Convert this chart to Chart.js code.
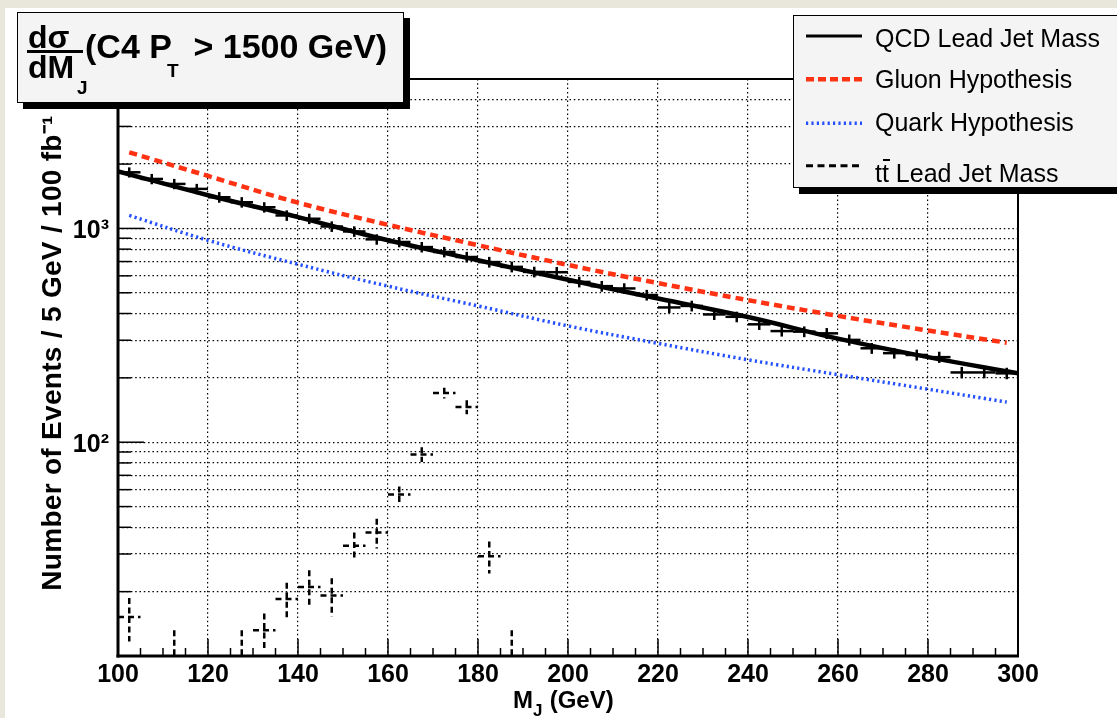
<!DOCTYPE html>
<html lang="en">
<head>
<meta charset="UTF-8">
<title>QCD lead jet mass, C4 PT &gt; 1500 GeV</title>
<script src="https://cdn.jsdelivr.net/npm/chart.js@4.4.0/dist/chart.umd.min.js"></script>
<style>
  body { margin: 0; width: 1117px; height: 718px; overflow: hidden; position: relative;
         background: #e9e6dc; font-family: 'Liberation Sans', Arial, Helvetica, sans-serif; color: #000; }
  #panel { position: absolute; left: 5px; top: 8px; right: 0; bottom: 0; background: #fff; }
  #myChart { position: absolute; left: 0; top: 0; }
  .box { position: absolute; box-sizing: border-box; background: #f4f4f4; border: 1.5px solid #000; box-shadow: 6px 6px 0 #000; }
  .t { position: absolute; white-space: pre; font-weight: bold; }
  .leg { position: absolute; white-space: pre; font-size: 25px; line-height: 25px; }
  .tb { position: relative; }
  .tb::after { content: ''; position: absolute; left: 1px; top: 0.5px; width: 7px; height: 2.2px; background: #000; }
  #ytitle { position: absolute; left: -248px; top: 338px; width: 600px; height: 30px; line-height: 30px;
            text-align: center; font-weight: bold; font-size: 28px; letter-spacing: 0.3px;
            transform: rotate(-90deg); white-space: pre; }
</style>
</head>
<body>
  <div id="panel"></div>
  <canvas id="myChart" width="1117" height="718"></canvas>

  <!-- title box -->
  <div class="box" style="left:17px; top:12px; width:387px; height:91px;"></div>
  <span class="t" style="left:28px; top:21px; font-size:32px; line-height:32px;">dσ</span>
  <div style="position:absolute; left:27px; top:50px; width:56px; height:2.5px; background:#000;"></div>
  <span class="t" style="left:28px; top:51px; font-size:32px; line-height:32px;">dM</span>
  <span class="t" style="left:77px; top:78px; font-size:19px; line-height:19px;">J</span>
  <span class="t" style="left:85px; top:29px; font-size:34px; line-height:34px;">(C4 P</span>
  <span class="t" style="left:167px; top:61px; font-size:19px; line-height:19px;">T</span>
  <span class="t" style="left:184px; top:29px; font-size:34px; line-height:34px;"> &gt; 1500 GeV)</span>

  <!-- legend -->
  <div class="box" style="left:793px; top:15px; width:400px; height:173px;"></div>
  <svg style="position:absolute; left:800px; top:20px;" width="70" height="160">
    <line x1="6" y1="16" x2="62" y2="16" stroke="#000" stroke-width="3"></line>
    <line x1="6" y1="59.3" x2="62" y2="59.3" stroke="#ff3214" stroke-width="4.5" stroke-dasharray="8 4"></line>
    <line x1="6" y1="103.3" x2="62" y2="103.3" stroke="#2450ff" stroke-width="3.5" stroke-dasharray="2.2 3.2"></line>
    <line x1="6" y1="145.7" x2="62" y2="145.7" stroke="#000" stroke-width="3" stroke-dasharray="7 4.5"></line>
  </svg>
  <span class="leg" style="left:875px; top:25.5px;">QCD Lead Jet Mass</span>
  <span class="leg" style="left:875px; top:67.1px;">Gluon Hypothesis</span>
  <span class="leg" style="left:875px; top:109.5px;">Quark Hypothesis</span>
  <span class="leg" style="left:875px; top:160.5px;">t<span class="tb">t</span> Lead Jet Mass</span>

  <!-- axis titles -->
  <div id="ytitle">Number of Events / 5 GeV / 100 fb⁻¹</div>
  <span class="t" style="left:513px; top:687.7px; font-size:24px; line-height:24px;">M</span>
  <span class="t" style="left:533px; top:701.6px; font-size:17px; line-height:17px;">J</span>
  <span class="t" style="left:543px; top:687.7px; font-size:24px; line-height:24px;"> (GeV)</span>

  <script>
    // QCD lead jet mass, 5 GeV bins (bin centres)
    const qcdMass = [102.5, 107.5, 112.5, 117.5, 122.5, 127.5, 132.5, 137.5, 142.5, 147.5,
                     152.5, 157.5, 162.5, 167.5, 172.5, 177.5, 182.5, 187.5, 192.5, 197.5,
                     202.5, 207.5, 212.5, 217.5, 222.5, 227.5, 232.5, 237.5, 242.5, 247.5,
                     252.5, 257.5, 262.5, 267.5, 272.5, 277.5, 282.5, 287.5, 292.5, 297.5];
    const qcdEvents = [1830, 1704, 1615, 1531, 1399, 1326, 1256, 1150, 1110, 1021,
                       968, 889, 864, 818, 776, 735, 696, 661, 626, 624,
                       562, 537, 524, 488, 427, 434, 396, 386, 356, 331,
                       329, 323, 301, 275, 261, 256, 250, 212, 212, 210];
    const qcdErr = [100, 95, 90, 85, 80, 75, 70, 65, 62, 58,
                    55, 50, 48, 46, 44, 42, 40, 38, 36, 36,
                    32, 31, 30, 28, 25, 25, 23, 22, 21, 19,
                    19, 19, 18, 16, 15, 15, 15, 13, 13, 13];

    // fit to the QCD lead jet mass
    const fitMass = [100, 120, 140, 160, 180, 200, 220, 240, 260, 280, 300];
    const fitEvents = [1850, 1430, 1130, 880, 710, 575, 470, 385, 305, 250, 210];

    // gluon / quark hypotheses
    const hypMass = [102.5, 120, 140, 160, 180, 200, 220, 240, 260, 280, 297.5];
    const gluonEvents = [2270, 1760, 1320, 1040, 835, 675, 555, 462, 390, 333, 292];
    const quarkEvents = [1150, 880, 680, 537, 434, 350, 290, 243, 207, 177, 154];

    // ttbar lead jet mass (only bins that reach into the plot)
    const ttMass = [102.5, 112.5, 127.5, 132.5, 137.5, 142.5, 147.5, 152.5,
                    157.5, 162.5, 167.5, 172.5, 177.5, 182.5, 187.5];
    const ttEvents = [15.2, 8, 8, 13.2, 18.5, 21.0, 19.2, 32.8,
                      37.8, 57, 87.7, 170, 146, 29.3, 8];
    const ttErr = [3.5, 5.2, 5.2, 2.6, 3.5, 4.2, 3.9, 5,
                   6, 5, 7, 10, 11, 5, 5.2];

    // axis ticks
    const xLabelStep = 20;
    const yTicks = [10, 20, 30, 40, 50, 60, 70, 80, 90,
                    100, 200, 300, 400, 500, 600, 700, 800, 900,
                    1000, 2000, 3000, 4000];
    const yLabels = { 100: '10²', 1000: '10³' };

    const binHalf = 2.5;
    const labelFont = { family: "'Liberation Sans', Arial, sans-serif", size: 25, weight: 'bold' };

    const pts = (xs, ys, es) => xs.map((v, i) => ({ x: v, y: ys[i], e: es ? es[i] : 0 }));

    // ROOT-like pieces: error crosses, inner ticks, frame
    const rootStyle = {
      id: 'rootStyle',
      afterDatasetsDraw(chart) {
        const { ctx, chartArea: a, scales: { x, y } } = chart;
        const line = (x0, y0, x1, y1) => { ctx.beginPath(); ctx.moveTo(x0, y0); ctx.lineTo(x1, y1); ctx.stroke(); };

        ctx.save();
        ctx.beginPath();
        ctx.rect(a.left, a.top, a.right - a.left, a.bottom - a.top);
        ctx.clip();
        ctx.strokeStyle = '#000';
        chart.data.datasets.forEach(ds => {
          if (!ds.crosses) return;
          ctx.lineWidth = ds.crossWidth;
          ds.data.forEach(p => {
            const xc = x.getPixelForValue(p.x);
            const yc = y.getPixelForValue(p.y);
            ctx.setLineDash(ds.crossDash);
            line(x.getPixelForValue(p.x - binHalf), yc, x.getPixelForValue(p.x + binHalf), yc);
            ctx.setLineDash(ds.errDash);
            line(xc, y.getPixelForValue(p.y + p.e), xc, y.getPixelForValue(Math.max(p.y - p.e, 1)));
          });
        });
        ctx.restore();

        ctx.save();
        ctx.strokeStyle = '#000';
        ctx.setLineDash([]);
        ctx.lineWidth = 1.5;
        yTicks.forEach(v => {
          const py = y.getPixelForValue(v);
          line(a.left, py, a.left + (yLabels[v] ? 26 : 13), py);
        });
        for (let v = 105; v < 300; v += 5) {
          const px = x.getPixelForValue(v);
          line(px, a.bottom, px, a.bottom - (v % xLabelStep === 0 ? 17 : 8));
        }
        ctx.lineWidth = 2;
        ctx.strokeRect(a.left, a.top, a.right - a.left, a.bottom - a.top);
        ctx.lineWidth = 3;
        line(a.left, a.top, a.left, a.bottom + 1.5);
        line(a.left - 1.5, a.bottom, a.right + 1, a.bottom);
        ctx.restore();
      }
    };

    const ctx = document.getElementById('myChart').getContext('2d');
    const myChart = new Chart(ctx, {
      type: 'scatter',
      data: {
        datasets: [
          {
            label: 'Gluon Hypothesis',
            data: pts(hypMass, gluonEvents),
            showLine: true, pointRadius: 0, tension: 0.4,
            borderColor: '#ff3214', borderWidth: 4.5, borderDash: [8, 5]
          },
          {
            label: 'Quark Hypothesis',
            data: pts(hypMass, quarkEvents),
            showLine: true, pointRadius: 0, tension: 0.4,
            borderColor: '#2450ff', borderWidth: 3.5, borderDash: [2.2, 3.2]
          },
          {
            label: 'QCD Lead Jet Mass',
            data: pts(qcdMass, qcdEvents, qcdErr),
            pointRadius: 0, crosses: true, crossWidth: 2.5, crossDash: [], errDash: []
          },
          {
            label: 'tt Lead Jet Mass',
            data: pts(ttMass, ttEvents, ttErr),
            pointRadius: 0, crosses: true, crossWidth: 2.5, crossDash: [6, 4], errDash: [6, 3.5]
          },
          {
            label: 'QCD fit',
            data: pts(fitMass, fitEvents),
            showLine: true, pointRadius: 0, tension: 0.4,
            borderColor: '#000', borderWidth: 4.5
          }
        ]
      },
      options: {
        responsive: false,
        animation: false,
        layout: { padding: { top: 79, right: 99, left: 0, bottom: 0 } },
        plugins: { legend: { display: false }, tooltip: { enabled: false } },
        scales: {
          x: {
            type: 'linear', min: 100, max: 300,
            afterFit: s => { s.height = 62; },
            ticks: { stepSize: xLabelStep, padding: 4, color: '#000', font: labelFont, maxRotation: 0, autoSkip: false },
            grid: { color: '#000', lineWidth: 1.2, drawTicks: false },
            border: { display: false, dash: [1.5, 2.8] }
          },
          y: {
            type: 'logarithmic', min: 10, max: 5000,
            afterFit: s => { s.width = 118; },
            afterBuildTicks: s => { s.ticks = yTicks.map(v => ({ value: v })); },
            ticks: {
              autoSkip: false, padding: 9, labelOffset: 3, color: '#000', font: labelFont,
              callback: v => yLabels[v] || ''
            },
            grid: { color: '#000', lineWidth: 1.2, drawTicks: false },
            border: { display: false, dash: [1.5, 2.8] }
          }
        }
      },
      plugins: [rootStyle]
    });
  </script>
</body>
</html>
